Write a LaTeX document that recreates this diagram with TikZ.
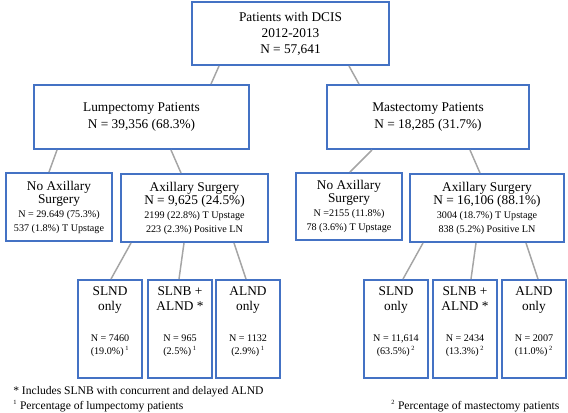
\documentclass[tikz,border=0pt]{standalone}
\usepackage{fontspec}
\setmainfont{Liberation Serif}
\usepackage{tikz}
\usepackage{color}

\definecolor{boxblue}{RGB}{68,114,196}
\definecolor{linegray}{RGB}{165,165,165}

\newcommand{\smalltxt}{\fontsize{7.6}{12}\selectfont}
\newcommand{\fnmark}[1]{\textsuperscript{\fontsize{4.8}{5}\selectfont #1}}
\newcommand{\leafpad}{\rule[-13pt]{0pt}{13pt}}

\begin{document}
\begin{tikzpicture}
[
  x=0.75pt, y=-0.75pt,
  box/.style={draw=boxblue, line width=1.5pt, inner sep=0pt, align=center,
    font=\fontsize{10}{12}\selectfont},
  split/.style={box, minimum height=51pt},
  leaf/.style={box, minimum width=48pt, minimum height=73.5pt},
  link/.style={draw=linegray, line width=1.1pt},
  note/.style={anchor=west, inner sep=0pt, font=\fontsize{8.7}{10.5}\selectfont}
]

\useasboundingbox (0,0) rectangle (568,412);

\node[box, minimum width=147.75pt, minimum height=47.25pt] (dcis) at (290.5,33.5)
  {Patients with DCIS\\2012-2013\\N = 57,641};

\node[box, minimum width=161.25pt, minimum height=48pt] (lump) at (141.5,117)
  {Lumpectomy Patients\\[0.75pt]N = 39,356 (68.3\%)};
\node[box, minimum width=151.5pt, minimum height=48pt] (mast) at (428,117)
  {Mastectomy Patients\\[0.75pt]N = 18,285 (31.7\%)};

\node[split, minimum width=79.5pt] (noaxL) at (59,207)
  {No Axillary\\[-2.25pt]Surgery\\[-1.5pt]\smalltxt N = 29.649 (75.3\%)\\[-1.5pt]\smalltxt 537 (1.8\%) T Upstage};
\node[split, minimum width=110.25pt] (axL) at (194.5,208)
  {Axillary Surgery\\[-2.25pt]N = 9,625 (24.5\%)\\[-1.5pt]\smalltxt 2199 (22.8\%) T Upstage\\[-1.5pt]\smalltxt 223 (2.3\%) Positive LN};
\node[split, minimum width=79.5pt, minimum height=50.25pt] (noaxM) at (349,206.5)
  {No Axillary\\[-2.25pt]Surgery\\[-1.5pt]\smalltxt N =2155 (11.8\%)\\[-1.5pt]\smalltxt 78 (3.6\%) T Upstage};
\node[split, minimum width=115.5pt] (axM) at (487,208)
  {Axillary Surgery\\[-2.25pt]N = 16,106 (88.1\%)\\[-1.5pt]\smalltxt 3004 (18.7\%) T Upstage\\[-1.5pt]\smalltxt 838 (5.2\%) Positive LN};

\node[leaf] (slndL) at (110,329)
  {SLND\\[-0.75pt]only\\[11pt]\smalltxt N = 7460\\[-2.25pt]\smalltxt (19.0\%)\,\fnmark{1}\leafpad};
\node[leaf] (slnbL) at (180,329)
  {SLNB +\\[-0.75pt]ALND *\\[11pt]\smalltxt N = 965\\[-2.25pt]\smalltxt (2.5\%)\,\fnmark{1}\leafpad};
\node[leaf] (alndL) at (248,329)
  {ALND\\[-0.75pt]only\\[11pt]\smalltxt N = 1132\\[-2.25pt]\smalltxt (2.9\%)\,\fnmark{1}\leafpad};

\node[leaf] (slndM) at (396,329)
  {SLND\\[-0.75pt]only\\[11pt]\smalltxt N = 11,614\\[-2.25pt]\smalltxt (63.5\%)\,\fnmark{2}\leafpad};
\node[leaf] (slnbM) at (465,329)
  {SLNB +\\[-0.75pt]ALND *\\[11pt]\smalltxt N = 2434\\[-2.25pt]\smalltxt (13.3\%)\,\fnmark{2}\leafpad};
\node[leaf] (alndM) at (534,329)
  {ALND\\[-0.75pt]only\\[11pt]\smalltxt N = 2007\\[-2.25pt]\smalltxt (11.0\%)\,\fnmark{2}\leafpad};

\node[note] (noteA) at (13,392) {* Includes SLNB with concurrent and delayed ALND};
\node[note] (noteL) at (13,406) {\fnmark{1} Percentage of lumpectomy patients};
\node[note] (noteM) at (391,406) {\fnmark{2} Percentage of mastectomy patients};

\path[link]
([shift={(28,0)}]dcis.south west) edge ([shift={(178,0)}]lump.north west)
([shift={(158,0)}]dcis.south west) edge ([shift={(33,0)}]mast.north west)

([shift={(24,0)}]lump.south west) edge ([shift={(44,0)}]noaxL.north west)
([shift={(138,0)}]lump.south west) edge ([shift={(61,0)}]axL.north west)
([shift={(46,0)}]mast.south west) edge ([shift={(55,0)}]noaxM.north west)
([shift={(144,0)}]mast.south west) edge ([shift={(71,0)}]axM.north west)

([shift={(11,0)}]axL.south west) edge ([shift={(34,0)}]slndL.north west)
([shift={(64,0)}]axL.south west) edge ([shift={(32,0)}]slnbL.north west)
([shift={(114,0)}]axL.south west) edge ([shift={(31,0)}]alndL.north west)
([shift={(14,0)}]axM.south west) edge ([shift={(40,0)}]slndM.north west)
([shift={(67,0)}]axM.south west) edge ([shift={(39,0)}]slnbM.north west)
([shift={(117,0)}]axM.south west) edge ([shift={(37,0)}]alndM.north west);

\end{tikzpicture}
\end{document}
